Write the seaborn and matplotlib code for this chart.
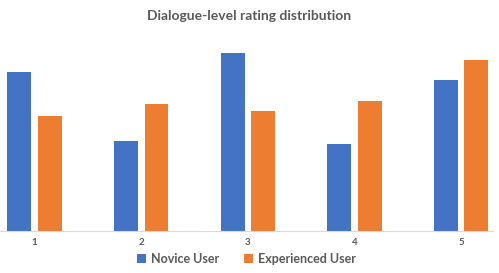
import numpy as np
import matplotlib
matplotlib.use("Agg")
import matplotlib.pyplot as plt
import pandas as pd
import seaborn as sns

ratings = ["1", "2", "3", "4", "5"]
novice = [15.9, 9.0, 17.8, 8.7, 15.1]
experienced = [11.5, 12.7, 12.0, 13.0, 17.1]

df = pd.DataFrame({
    "rating": ratings * 2,
    "value": novice + experienced,
    "user": ["Novice User"] * 5 + ["Experienced User"] * 5,
})

sns.set_style("white")
plt.rcParams["font.family"] = ["Lato", "DejaVu Sans"]

fig = plt.figure(figsize=(4.99, 2.73), dpi=100)
ax = fig.add_axes([0.0, 0.154, 0.988, 0.70])

sns.barplot(data=df, x="rating", y="value", hue="user",
            palette=["#4472C4", "#ED7D31"], saturation=1, width=0.572, gap=0.217,
            linewidth=0, ax=ax)

ax.set_xlim(-0.325, 4.30)
ax.set_ylim(0, 19.1)
ax.set_xlabel("")
ax.set_ylabel("")
ax.set_yticks([])
for s in ["top", "right", "left"]:
    ax.spines[s].set_visible(False)
ax.spines["bottom"].set_color("#D9D9D9")
ax.spines["bottom"].set_linewidth(0.8)
ax.tick_params(axis="x", length=0, pad=5, labelsize=7, labelcolor="#595959")
for t in ax.get_xticklabels():
    t.set_fontweight("bold")

fig.text(0.5, 0.94, "Dialogue-level rating distribution", ha="center", va="center",
         fontsize=10, fontweight="bold", color="#595959")

handles, labels = ax.get_legend_handles_labels()
ax.legend(handles, labels, loc="center", bbox_to_anchor=(0.5, -0.147),
          bbox_transform=ax.transAxes, ncol=2, frameon=False,
          handlelength=0.7, handleheight=0.7, handletextpad=0.4, columnspacing=2.0,
          prop={"size": 9, "weight": "bold"}, labelcolor="#595959")

fig.savefig("out.png", dpi=100)
